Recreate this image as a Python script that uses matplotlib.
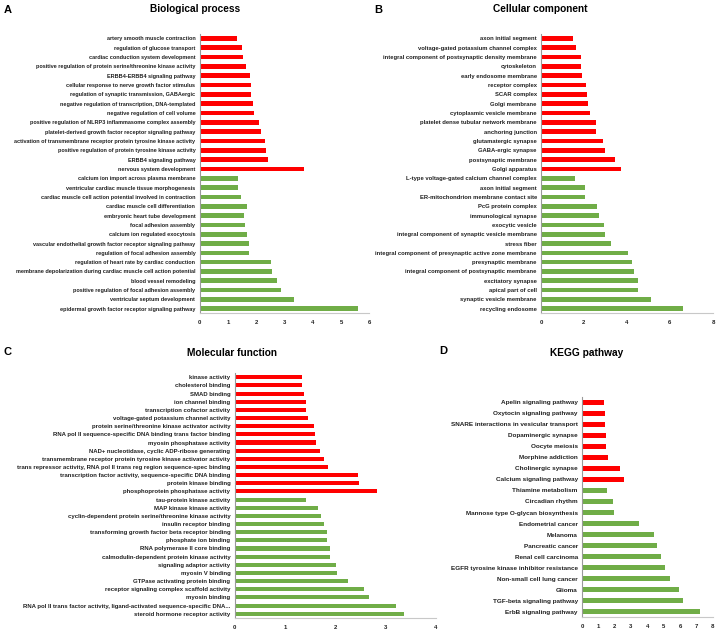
import matplotlib
matplotlib.use('Agg')
import matplotlib.pyplot as plt

plt.rcParams['font.family'] = ['Liberation Sans', 'DejaVu Sans']

RED = '#ff0000'
GREEN = '#70ad47'

# A - Biological process (top to bottom)
bp_labels = [
    'artery smooth muscle contraction',
    'regulation of glucose transport',
    'cardiac conduction system development',
    'positive regulation of protein serine/threonine kinase activity',
    'ERBB4-ERBB4 signaling pathway',
    'cellular response to nerve growth factor stimulus',
    'regulation of synaptic transmission, GABAergic',
    'negative regulation of transcription, DNA-templated',
    'negative regulation of cell volume',
    'positive regulation of NLRP3 inflammasome complex assembly',
    'platelet-derived growth factor receptor signaling pathway',
    'activation of transmembrane receptor protein tyrosine kinase activity',
    'positive regulation of protein tyrosine kinase activity',
    'ERBB4 signaling pathway',
    'nervous system development',
    'calcium ion import across plasma membrane',
    'ventricular cardiac muscle tissue morphogenesis',
    'cardiac muscle cell action potential involved in contraction',
    'cardiac muscle cell differentiation',
    'embryonic heart tube development',
    'focal adhesion assembly',
    'calcium ion regulated exocytosis',
    'vascular endothelial growth factor receptor signaling pathway',
    'regulation of focal adhesion assembly',
    'regulation of heart rate by cardiac conduction',
    'membrane depolarization during cardiac muscle cell action potential',
    'blood vessel remodeling',
    'positive regulation of focal adhesion assembly',
    'ventricular septum development',
    'epidermal growth factor receptor signaling pathway',
]
bp_values = [1.34, 1.51, 1.55, 1.64, 1.77, 1.80, 1.83, 1.89, 1.93, 2.11,
             2.17, 2.30, 2.35, 2.43, 3.69,
             1.35, 1.35, 1.48, 1.67, 1.57, 1.60, 1.68, 1.75, 1.75, 2.53,
             2.57, 2.74, 2.87, 3.33, 5.58]
bp_n_red = 15

# B - Cellular component
cc_labels = [
    'axon initial segment',
    'voltage-gated potassium channel complex',
    'integral component of postsynaptic density membrane',
    'cytoskeleton',
    'early endosome membrane',
    'receptor complex',
    'SCAR complex',
    'Golgi membrane',
    'cytoplasmic vesicle membrane',
    'platelet dense tubular network membrane',
    'anchoring junction',
    'glutamatergic synapse',
    'GABA-ergic synapse',
    'postsynaptic membrane',
    'Golgi apparatus',
    'L-type voltage-gated calcium channel complex',
    'axon initial segment',
    'ER-mitochondrion membrane contact site',
    'PcG protein complex',
    'immunological synapse',
    'exocytic vesicle',
    'integral component of synaptic vesicle membrane',
    'stress fiber',
    'integral component of presynaptic active zone membrane',
    'presynaptic membrane',
    'integral component of postsynaptic membrane',
    'excitatory synapse',
    'apical part of cell',
    'synaptic vesicle membrane',
    'recycling endosome',
]
cc_values = [1.49, 1.64, 1.86, 1.86, 1.91, 2.08, 2.16, 2.20, 2.29, 2.54,
             2.54, 2.88, 2.98, 3.43, 3.71,
             1.58, 2.03, 2.03, 2.60, 2.70, 2.91, 2.98, 3.26, 4.03, 4.22,
             4.33, 4.50, 4.53, 5.12, 6.62]
cc_n_red = 15

# C - Molecular function
mf_labels = [
    'kinase activity',
    'cholesterol binding',
    'SMAD binding',
    'ion channel binding',
    'transcription cofactor activity',
    'voltage-gated potassium channel activity',
    'protein serine/threonine kinase activator activity',
    'RNA pol II sequence-specific DNA binding trans factor binding',
    'myosin phosphatase activity',
    'NAD+ nucleotidase, cyclic ADP-ribose generating',
    'transmembrane receptor protein tyrosine kinase activator activity',
    'trans repressor activity, RNA pol II trans reg region sequence-spec binding',
    'transcription factor activity, sequence-specific DNA binding',
    'protein kinase binding',
    'phosphoprotein phosphatase activity',
    'tau-protein kinase activity',
    'MAP kinase kinase activity',
    'cyclin-dependent protein serine/threonine kinase activity',
    'insulin receptor binding',
    'transforming growth factor beta receptor binding',
    'phosphate ion binding',
    'RNA polymerase II core binding',
    'calmodulin-dependent protein kinase activity',
    'signaling adaptor activity',
    'myosin V binding',
    'GTPase activating protein binding',
    'receptor signaling complex scaffold activity',
    'myosin binding',
    'RNA pol II trans factor activity, ligand-activated sequence-specific DNA...',
    'steroid hormone receptor activity',
]
mf_values = [1.34, 1.35, 1.38, 1.42, 1.42, 1.46, 1.58, 1.60, 1.62, 1.70,
             1.77, 1.85, 2.46, 2.48, 2.83,
             1.43, 1.66, 1.72, 1.77, 1.83, 1.83, 1.89, 1.89, 2.01, 2.04,
             2.26, 2.57, 2.68, 3.21, 3.37]
mf_n_red = 15

# D - KEGG pathway
kegg_labels = [
    'Apelin signaling pathway',
    'Oxytocin signaling pathway',
    'SNARE interactions in vesicular transport',
    'Dopaminergic synapse',
    'Oocyte meiosis',
    'Morphine addiction',
    'Cholinergic synapse',
    'Calcium signaling pathway',
    'Thiamine metabolism',
    'Circadian rhythm',
    'Mannose type O-glycan biosynthesis',
    'Endometrial cancer',
    'Melanoma',
    'Pancreatic cancer',
    'Renal cell carcinoma',
    'EGFR tyrosine kinase inhibitor resistance',
    'Non-small cell lung cancer',
    'Glioma',
    'TGF-beta signaling pathway',
    'ErbB signaling pathway',
]
kegg_values = [1.33, 1.41, 1.43, 1.47, 1.47, 1.59, 2.33, 2.55,
               1.51, 1.88, 1.96, 3.51, 4.41, 4.59, 4.86, 5.08, 5.41, 5.94,
               6.16, 7.22]
kegg_n_red = 8


def draw_panel(fig, rect, labels, values, n_red, xmax, xstep, bar_h, label_size):
    ax = fig.add_axes(rect)
    colors = [RED] * n_red + [GREEN] * (len(values) - n_red)
    ypos = list(range(len(values)))
    ax.barh(ypos, values, height=bar_h, color=colors)
    ax.set_yticks(ypos)
    ax.set_yticklabels(labels, fontsize=label_size, fontweight='bold', color='#222222')
    ax.set_ylim(len(values) - 0.5, -0.5)
    ax.set_xlim(0, xmax)
    ax.set_xticks(range(0, xmax + 1, xstep))
    ax.tick_params(axis='x', length=0, labelsize=4.3, pad=5, labelcolor='#222222')
    ax.tick_params(axis='y', length=0, pad=3)
    for lbl in ax.get_xticklabels():
        lbl.set_fontweight('bold')
    for side in ['top', 'right']:
        ax.spines[side].set_visible(False)
    ax.spines['left'].set_color('#9a9a9a')
    ax.spines['bottom'].set_color('#c8c8c8')
    ax.spines['left'].set_linewidth(0.8)
    ax.spines['bottom'].set_linewidth(0.8)
    return ax


fig = plt.figure(figsize=(7.19, 6.30), dpi=100)

draw_panel(fig, [0.2775, 0.5025, 0.2364, 0.4438], bp_labels, bp_values, bp_n_red, 6, 1, 0.5, 3.95)
draw_panel(fig, [0.7524, 0.5025, 0.2392, 0.4438], cc_labels, cc_values, cc_n_red, 8, 2, 0.5, 4.25)
draw_panel(fig, [0.3262, 0.0194, 0.2798, 0.3882], mf_labels, mf_values, mf_n_red, 4, 1, 0.5, 4.3)
draw_panel(fig, [0.8095, 0.0203, 0.1818, 0.3499], kegg_labels, kegg_values, kegg_n_red, 8, 1, 0.45, 4.6)

# panel letters and titles
fig.text(4 / 719, 1 - 10 / 630, 'A', fontsize=8, fontweight='bold', va='center')
fig.text(195 / 719, 1 - 9 / 630, 'Biological process', fontsize=7.3, fontweight='bold',
         ha='center', va='center')
fig.text(374 / 719, 1 - 10 / 630, 'B', fontsize=8, fontweight='bold', va='center')
fig.text(540 / 719, 1 - 9 / 630, 'Cellular component', fontsize=7.3, fontweight='bold',
         ha='center', va='center')
fig.text(3 / 719, 1 - 352 / 630, 'C', fontsize=8, fontweight='bold', va='center')
fig.text(232 / 719, 1 - 353 / 630, 'Molecular function', fontsize=7.3, fontweight='bold',
         ha='center', va='center')
fig.text(439 / 719, 1 - 351 / 630, 'D', fontsize=8, fontweight='bold', va='center')
fig.text(587 / 719, 1 - 353 / 630, 'KEGG pathway', fontsize=7.3, fontweight='bold',
         ha='center', va='center')

fig.savefig('out.png', dpi=100)
